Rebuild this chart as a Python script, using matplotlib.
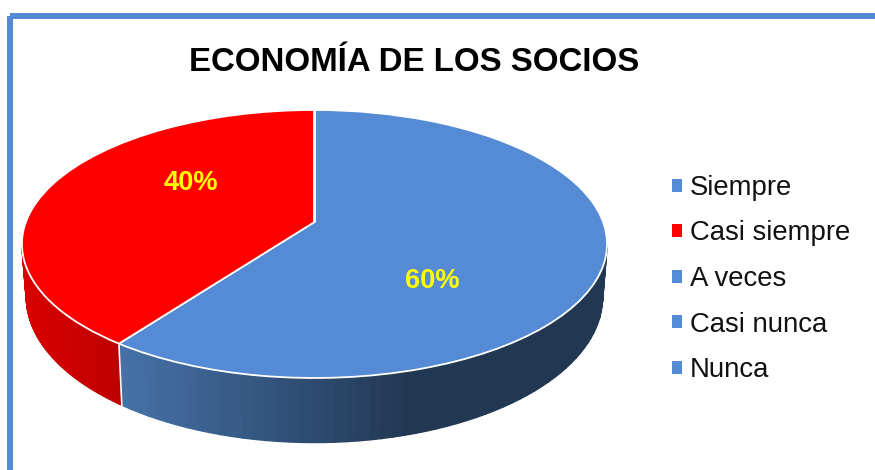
import numpy as np
import matplotlib
matplotlib.use("Agg")
import matplotlib.pyplot as plt
from matplotlib.collections import PolyCollection
from matplotlib.colors import LinearSegmentedColormap, Normalize
from matplotlib.patches import Patch, Rectangle
from matplotlib.transforms import Transform

title = "ECONOMÍA DE LOS SOCIOS"
categories = ["Siempre", "Casi siempre", "A veces", "Casi nunca", "Nunca"]
values = [60, 40, 0, 0, 0]
colors = ["#558BD5", "#FF0000", "#558BD5", "#558BD5", "#558BD5"]

plt.rcParams["font.family"] = ["Liberation Sans", "DejaVu Sans"]

# Geometry of the tilted disc, in image pixels
CX, CY = 314.5, 222.0
SX, SY, K = 288.6, 130.4, 0.164
BOTTOM_Y, BOTTOM_XS, BOTTOM_YS = 273.0, 0.985, 1.087


def project(x, y, cy=CY, xs=1.0, ys=1.0):
    d = 1 + K * y
    return CX + xs * SX * x / d, cy - ys * SY * y / d


class Tilt(Transform):
    input_dims = output_dims = 2
    is_separable = False
    has_inverse = False

    def transform_non_affine(self, values):
        v = np.asarray(values, float)
        return np.column_stack(project(v[:, 0], v[:, 1]))


fig = plt.figure(figsize=(8.75, 4.7), dpi=100, facecolor="white")
ax = fig.add_axes([0, 0, 1, 1])

wedges, _ = ax.pie(values, colors=colors, startangle=90, counterclock=False,
                   wedgeprops=dict(edgecolor="white", linewidth=1.3, zorder=5))
tilt = Tilt()
for w in wedges:
    w.set_transform(tilt + ax.transData)
ax.set_aspect("auto")
ax.set_xlim(0, 875)
ax.set_ylim(470, 0)
ax.axis("off")

# Side walls, shaded in thin strips following the slices
silhouette = np.degrees(np.arcsin(K))
blue_wall = LinearSegmentedColormap.from_list("b", ["#4672A8", "#34557F", "#223751", "#223751"])
red_wall = LinearSegmentedColormap.from_list("r", ["#D80000", "#BE0000"])
ends = 90 - np.cumsum(values) * 3.6
starts = np.r_[90, ends[:-1]]
for start, end, col in zip(starts, ends, colors):
    if start == end:
        continue
    # visible front arc: between -180+silhouette and -silhouette
    for shift in (0, -360):
        a = max(end + shift, -180 + silhouette)
        b = min(start + shift, -silhouette)
        if a >= b:
            continue
        th = np.radians(np.linspace(a, b, 60))
        xt, yt = project(np.cos(th), np.sin(th))
        xb, yb = project(np.cos(th), np.sin(th), BOTTOM_Y, BOTTOM_XS, BOTTOM_YS)
        polys = [[(xt[i], yt[i]), (xt[i + 1], yt[i + 1]), (xb[i + 1], yb[i + 1]), (xb[i], yb[i])]
                 for i in range(len(th) - 1)]
        mids = (xt[:-1] + xt[1:]) / 2
        if col == "#FF0000":
            shade = red_wall(Normalize(25, 120)(mids))
        else:
            shade = blue_wall(Normalize(118, 560)(mids))
        ax.add_collection(PolyCollection(polys, facecolors=shade, edgecolors=shade,
                                         linewidths=1.0, zorder=2))
        if col == "#FF0000":
            ax.plot([xt[-1], xb[-1]], [yt[-1], yb[-1]], color="white", lw=1.2, zorder=3)

# Frame of the picture, running off the right and lower edges
ax.add_patch(Rectangle((10, 16), 900, 500, fill=False, edgecolor="#558BD5",
                       linewidth=4.3, joinstyle="round", zorder=1, clip_on=True))

ax.text(414.5, 62.5, title, ha="center", va="center", fontsize=23.8, fontweight="bold", color="black")

label_pos = [(432, 281.5), (190.5, 182.5)]
for (lx, ly), v in zip(label_pos, values):
    ax.text(lx, ly, f"{v}%", ha="center", va="center", fontsize=19.6,
            fontweight="bold", color="#FFFF00", zorder=6)

handles = [Patch(facecolor=c, edgecolor="none") for c in colors]
ax.legend(handles, categories, loc="center left", bbox_to_anchor=(672 / 875, 1 - 279 / 470),
          frameon=False, fontsize=19.8, handlelength=0.36, handleheight=0.36,
          handletextpad=0.29, labelspacing=0.71, borderpad=0, borderaxespad=0,
          labelcolor="#111111")

fig.savefig("out.png", dpi=100)
